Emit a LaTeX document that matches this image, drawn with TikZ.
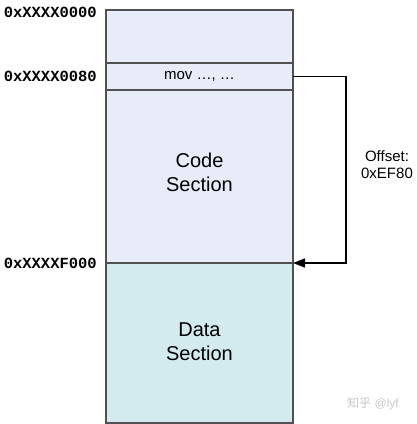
\documentclass[tikz,border=0pt]{standalone}
\usepackage{fontspec}
\setmainfont{Liberation Sans}
\setmonofont{Liberation Mono}
\newfontfamily\cjk{Noto Sans CJK SC}
\usepackage{xcolor}
\usetikzlibrary{positioning,arrows.meta}
\definecolor{codefill}{HTML}{E7ECF8}
\definecolor{datafill}{HTML}{D3EBEE}
\definecolor{edgecolor}{HTML}{505050}
\tikzset{
  sect/.style={draw=edgecolor, line width=1.2pt, minimum width=187pt, inner sep=0pt, outer sep=0pt},
  lbl/.style={font=\fontsize{20}{24}\selectfont, align=center, inner sep=0pt},
  addr/.style={font=\fontsize{15.5}{17}\selectfont\ttfamily\bfseries, anchor=east, inner sep=0pt},
  flow/.style={-{Triangle[length=12pt,width=9pt]}, line width=1.3pt, draw=black},
}

\begin{document}
\begin{tikzpicture}[x=1pt,y=-1pt]
\useasboundingbox (0,0) rectangle (417,424);
\node[sect, fill=codefill, minimum height=253pt] (code) at (199.5,136.5) {};
\node[sect, fill=codefill, minimum height=27pt, font=\fontsize{15}{17}\selectfont] (instr) at (199.5,76.5) {mov \dots, \dots};
\node[sect, fill=datafill, minimum height=160pt] (data) at (199.5,343) {};
\node[lbl] (codelbl) at (199.5,172) {Code\\Section};
\node[lbl] (datalbl) at (199.5,342) {Data\\Section};
\node[addr] (a0) at (97,12) {0xXXXX0000};
\node[addr] (a1) at (97,76.5) {0xXXXX0080};
\node[addr] (a2) at (97,263) {0xXXXXF000};
\node[font=\fontsize{15}{17}\selectfont, align=center, inner sep=0pt] (offs) at (387,165) {Offset:\\0xEF80};
\node[font=\fontsize{12}{14}\selectfont, text=black!22, inner sep=0pt] (mark) at (373,404) {{\cjk 知乎} @lyf};
\draw[flow] (instr.east) -- ++(53,0) |- (data.north east);
\end{tikzpicture}
\end{document}
